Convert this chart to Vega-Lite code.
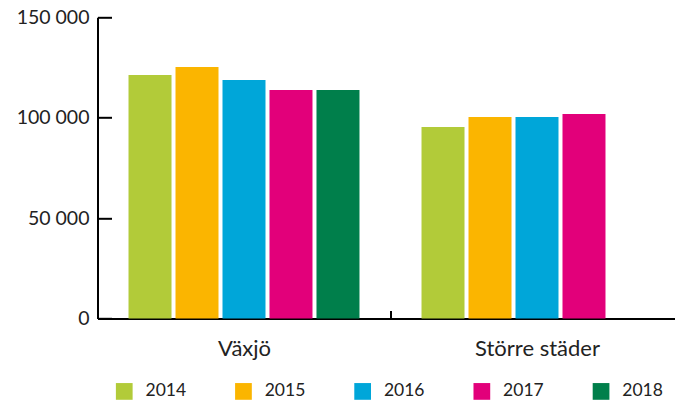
{
  "$schema": "https://vega.github.io/schema/vega-lite/v6.json",
  "autosize": {"type": "none"},
  "padding": {"left": 97.5, "top": 17.3, "right": 0, "bottom": 81.5},
  "width": 577.5,
  "height": 301.2,
  "background": "white",
  "config": {
    "font": "Lato",
    "view": {"stroke": null},
    "axis": {"labelFont": "Lato", "labelColor": "#222222", "domainColor": "black", "tickColor": "black", "domainWidth": 2, "tickWidth": 2, "grid": false, "title": null}
  },
  "data": {
    "values": [
      {"group": "Växjö", "year": "2014", "value": 121300},
      {"group": "Växjö", "year": "2015", "value": 125300},
      {"group": "Växjö", "year": "2016", "value": 118800},
      {"group": "Växjö", "year": "2017", "value": 113800},
      {"group": "Växjö", "year": "2018", "value": 113800},
      {"group": "Större städer", "year": "2014", "value": 95400},
      {"group": "Större städer", "year": "2015", "value": 100350},
      {"group": "Större städer", "year": "2016", "value": 100350},
      {"group": "Större städer", "year": "2017", "value": 101850}
    ]
  },
  "mark": {"type": "bar"},
  "encoding": {
    "x": {
      "field": "group",
      "type": "nominal",
      "sort": ["Växjö", "Större städer"],
      "scale": {"range": [0, 586], "paddingInner": 0, "paddingOuter": 0},
      "axis": {"labelAngle": 0, "labelFontSize": 22, "tickSize": -8, "labelPadding": 28, "tickBand": "extent"}
    },
    "xOffset": {
      "field": "year",
      "type": "nominal",
      "scale": {"paddingInner": 0.085, "paddingOuter": 0.66}
    },
    "y": {
      "field": "value",
      "type": "quantitative",
      "scale": {"domain": [0, 150000], "nice": false},
      "axis": {"values": [0, 50000, 100000, 150000], "labelFontSize": 19.5, "tickSize": -14, "labelPadding": 22.5, "labelExpr": "replace(format(datum.value, ','), ',', ' ')"}
    },
    "color": {
      "field": "year",
      "type": "nominal",
      "scale": {"domain": ["2014", "2015", "2016", "2017", "2018"], "range": ["#b2cb39", "#fbb500", "#00a6d9", "#e2007a", "#007f4b"]},
      "legend": {
        "orient": "none",
        "direction": "horizontal",
        "legendX": 18,
        "legendY": 365,
        "title": null,
        "symbolType": "square",
        "symbolSize": 280,
        "symbolStrokeWidth": 0,
        "labelFontSize": 17.5,
        "labelColor": "#222222",
        "labelOffset": 12.5,
        "columnPadding": 48.2
      }
    }
  }
}
